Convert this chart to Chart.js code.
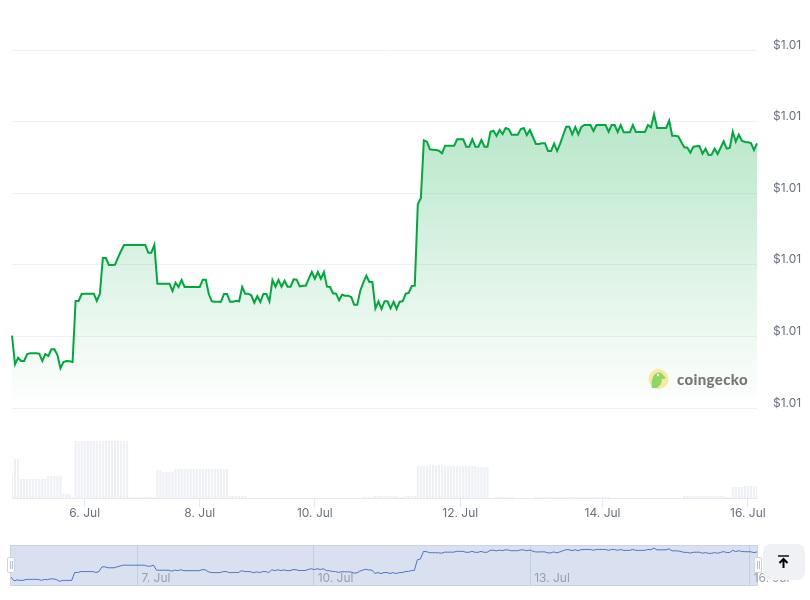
<!DOCTYPE html>
<html>
<head>
<meta charset="utf-8">
<title>Price chart</title>
<script src="https://cdn.jsdelivr.net/npm/chart.js@4"></script>
<style>
  body { margin: 0; background: #fff; width: 810px; height: 600px; overflow: hidden; position: relative; font-family: Inter, sans-serif; }
  canvas { position: absolute; left: 0; }
  #priceChart { top: 0; }
  #navChart { top: 540px; }
  #navBack { position: absolute; left: 10px; top: 545px; width: 746px; height: 39px; background: #d9e0ef; border: 1px solid #c9d3e4; }
  .handle { position: absolute; top: 557px; width: 6px; height: 14px; background: #fff; border: 1px solid #ccd5e4; border-radius: 2px; }
  .handle::after { content: ''; position: absolute; left: 2px; top: 3px; width: 1px; height: 8px; border-left: 1px solid #b4bdcc; border-right: 1px solid #b4bdcc; }
  #topBtn { position: absolute; left: 763px; top: 544px; width: 42px; height: 36px; background: #eff1f5; border-radius: 8px; }
  #logo { position: absolute; left: 648px; top: 369px; height: 20px; display: flex; align-items: center; }
  #logo span { margin-left: 8px; font: 900 15px Lato, sans-serif; color: #767676; letter-spacing: 0.35px; }
</style>
</head>
<body>
<div id="navBack"></div>
<canvas id="priceChart" width="810" height="530"></canvas>
<canvas id="navChart" width="810" height="60"></canvas>
<div class="handle" style="left:7px"></div>
<div class="handle" style="left:754px"></div>
<div id="topBtn">
  <svg width="42" height="36" viewBox="0 0 42 36">
    <path d="M15 12h11" stroke="#1b1f24" stroke-width="1.6"/>
    <path d="M20.5 24v-9M16.5 19l4-4 4 4" stroke="#000" stroke-width="2" fill="none"/>
  </svg>
</div>
<div id="logo">
  <svg width="21" height="20" viewBox="0 0 21 20">
    <circle cx="10.5" cy="10" r="10" fill="#f8eaa0"/>
    <path d="M4 19c-1-5 0-11 3-14 3-2 7-2 8 1l3 3c-2 1-3 1-4 1 0 4-2 7-5 9z" fill="#8ed865"/>
    <circle cx="10" cy="6" r="1.2" fill="#fff"/>
  </svg>
  <span>coingecko</span>
</div>
<script>
// one entry per time step
const prices = [
  1.005723, 1.005437, 1.005503, 1.00547, 1.00547, 1.00554, 1.005547, 1.005547, 1.005547, 1.005543,
  1.00547, 1.00554, 1.00552, 1.005587, 1.005587, 1.00553, 1.005397, 1.00546, 1.00547, 1.005467,
  1.00546, 1.00607, 1.00607, 1.00614, 1.006143, 1.006143, 1.006143, 1.006143, 1.00607, 1.00614,
  1.0065, 1.0065, 1.00643, 1.00643, 1.006433, 1.006503, 1.00657, 1.00663, 1.00663, 1.00663,
  1.00663, 1.00663, 1.00663, 1.00663, 1.00663, 1.006553, 1.006553, 1.00663, 1.006243, 1.006243,
  1.006243, 1.006243, 1.006243, 1.00617, 1.006253, 1.00621, 1.00628, 1.00621, 1.00621, 1.00621,
  1.00621, 1.00621, 1.00621, 1.006283, 1.006283, 1.006137, 1.006067, 1.006063, 1.006063, 1.006063,
  1.00614, 1.00614, 1.006063, 1.006063, 1.006073, 1.006067, 1.00621, 1.006143, 1.006143, 1.006127,
  1.006053, 1.00612, 1.00606, 1.00614, 1.00614, 1.006067, 1.00628, 1.006213, 1.00628, 1.006213,
  1.006273, 1.006213, 1.006213, 1.006287, 1.006283, 1.006217, 1.006223, 1.006223, 1.006293, 1.00636,
  1.006293, 1.00636, 1.006293, 1.00636, 1.006213, 1.00621, 1.006147, 1.006143, 1.006077, 1.006133,
  1.006123, 1.006123, 1.00611, 1.006033, 1.006033, 1.006173, 1.006253, 1.006323, 1.00626, 1.00626,
  1.005997, 1.006067, 1.00599, 1.006067, 1.006067, 1.005997, 1.006063, 1.00599, 1.006063, 1.006067,
  1.006143, 1.00615, 1.00622, 1.006223, 1.00704, 1.007097, 1.007677, 1.007663, 1.007587, 1.007583,
  1.00758, 1.007573, 1.007547, 1.007623, 1.007623, 1.007623, 1.007623, 1.007687, 1.007687, 1.007687,
  1.007613, 1.007613, 1.007687, 1.007613, 1.007613, 1.00768, 1.007613, 1.007613, 1.007763, 1.007773,
  1.00772, 1.00778, 1.00774, 1.0078, 1.00779, 1.007733, 1.007733, 1.007733, 1.00779, 1.0078,
  1.00773, 1.00778, 1.00771, 1.00764, 1.00764, 1.007647, 1.007647, 1.00757, 1.00757, 1.007643,
  1.00757, 1.007643, 1.00773, 1.007813, 1.007813, 1.007737, 1.00781, 1.007737, 1.00781, 1.00783,
  1.00783, 1.00783, 1.00777, 1.00783, 1.00783, 1.00783, 1.00783, 1.007763, 1.00783, 1.00783,
  1.00776, 1.00783, 1.007757, 1.007757, 1.007757, 1.00783, 1.00776, 1.00776, 1.00776, 1.00776,
  1.00783, 1.007807, 1.007937, 1.0078, 1.0078, 1.0078, 1.0078, 1.007873, 1.007723, 1.007723,
  1.007717, 1.00766, 1.007607, 1.007603, 1.007553, 1.007613, 1.007617, 1.00762, 1.007543, 1.007593,
  1.00753, 1.007533, 1.007593, 1.00754, 1.007603, 1.007667, 1.007593, 1.0076, 1.007763, 1.007663,
  1.007733, 1.007673, 1.00766, 1.007657, 1.00765, 1.00758, 1.007647
];
const volumes = [
  22, 39, 39, 19, 19, 19, 19, 19, 19, 19,
  19, 19, 22, 22, 22, 22, 22, 4, 4, 4,
  1, 57, 57, 57, 57, 57, 57, 57, 57, 57,
  57, 57, 57, 57, 57, 57, 57, 57, 57, 1,
  1, 1, 1, 1, 1, 1, 1, 1, 28, 28,
  26, 26, 26, 26, 29, 29, 29, 29, 29, 29,
  29, 29, 29, 29, 29, 29, 29, 29, 29, 29,
  29, 29, 2, 2, 2, 2, 2, 2, 0, 0,
  0, 0, 0, 0, 0, 0, 0, 0, 0, 0,
  0, 0, 0, 0, 0, 0, 0, 0, 0, 0,
  0, 0, 0, 0, 0, 0, 0, 0, 0, 0,
  0, 0, 0, 0, 0, 0, 1, 1, 1, 1,
  2, 2, 2, 2, 2, 2, 2, 2, 1, 1,
  2, 2, 2, 2, 32, 32, 32, 32, 33, 33,
  32, 33, 33, 32, 32, 32, 32, 32, 32, 32,
  32, 32, 32, 32, 31, 31, 31, 31, 0, 0,
  1, 1, 1, 1, 1, 1, 0, 0, 0, 0,
  0, 0, 0, 1, 1, 1, 1, 1, 1, 1,
  1, 1, 1, 1, 1, 1, 1, 1, 1, 1,
  1, 1, 1, 1, 1, 1, 1, 1, 0, 0,
  0, 0, 0, 0, 0, 0, 0, 0, 0, 0,
  0, 0, 0, 0, 0, 0, 0, 0, 0, 0,
  0, 0, 2, 2, 2, 2, 2, 2, 2, 2,
  2, 2, 2, 2, 2, 2, 1, 1, 11, 11,
  11, 11, 12, 12, 12, 12, 12
];

const priceTicks = [1.005, 1.005716, 1.006432, 1.007148, 1.007864, 1.00858];
const priceTickLabels = ['$1.01', '$1.01', '$1.01', '$1.01', '$1.01', '$1.01'];
const dateTickIndexes = [24, 62, 100, 148, 195, 243];
const dateTickLabels = ['6. Jul', '8. Jul', '10. Jul', '12. Jul', '14. Jul', '16. Jul'];
const navTickIndexes = [41.7, 99.8, 171.2, 243.6];
const navTickLabels = ['7. Jul', '10. Jul', '13. Jul', '16. Jul'];

const indexes = prices.map((p, i) => i);
const fontFamily = 'Inter, sans-serif';

function areaGradient(context) {
    const chart = context.chart;
    if (!chart.chartArea) return 'rgba(0, 168, 62, 0.1)';
    const scale = chart.scales.y;
    const grad = chart.ctx.createLinearGradient(0, scale.getPixelForValue(1.0078), 0, scale.getPixelForValue(priceTicks[0]));
    grad.addColorStop(0, 'rgba(0, 168, 62, 0.27)');
    grad.addColorStop(1, 'rgba(0, 168, 62, 0)');
    return grad;
}

new Chart(document.getElementById('priceChart'), {
    data: {
        labels: indexes,
        datasets: [
            {
                type: 'line',
                data: prices,
                yAxisID: 'y',
                borderColor: '#00a83e',
                borderWidth: 2,
                pointRadius: 0,
                tension: 0,
                fill: { value: priceTicks[0] },
                backgroundColor: areaGradient
            },
            {
                type: 'bar',
                data: volumes,
                yAxisID: 'vol',
                backgroundColor: '#eef0f4',
                categoryPercentage: 1,
                barPercentage: 0.7
            }
        ]
    },
    options: {
        responsive: false,
        animation: false,
        layout: { padding: { left: 12, top: 50, right: 0, bottom: 0 } },
        plugins: { legend: { display: false }, tooltip: { enabled: false } },
        scales: {
            x: {
                type: 'category',
                offset: false,
                grid: { offset: false, drawOnChartArea: false, tickLength: 9, tickColor: '#e6e9ef' },
                border: { color: '#e6e9ef' },
                afterBuildTicks: axis => { axis.ticks = dateTickIndexes.map(v => ({ value: v })); },
                afterFit: axis => { axis.height = 32; },
                ticks: {
                    autoSkip: false,
                    maxRotation: 0,
                    padding: -1,
                    color: '#687083',
                    font: { family: fontFamily, size: 12 },
                    callback: (v, i) => dateTickLabels[i]
                }
            },
            y: {
                position: 'right',
                min: 1.0041,
                max: priceTicks[5],
                grid: { color: '#eff1f3', drawTicks: false },
                border: { display: false },
                afterBuildTicks: axis => { axis.ticks = priceTicks.map(v => ({ value: v })); },
                afterFit: axis => { axis.width = 53; },
                ticks: {
                    padding: 16,
                    labelOffset: -5,
                    color: '#687083',
                    font: { family: fontFamily, size: 12 },
                    callback: (v, i) => priceTickLabels[i]
                }
            },
            vol: { display: false, min: 0, max: 448 }
        }
    }
});

new Chart(document.getElementById('navChart'), {
    type: 'line',
    data: {
        labels: indexes,
        datasets: [{
            data: prices,
            borderColor: '#4f74c4',
            borderWidth: 1,
            pointRadius: 0,
            tension: 0
        }]
    },
    options: {
        responsive: false,
        animation: false,
        layout: { padding: { left: 11, top: 5, right: 53, bottom: 0 } },
        plugins: { legend: { display: false }, tooltip: { enabled: false } },
        scales: {
            x: {
                type: 'category',
                grid: { color: '#c5cedd', drawTicks: false },
                border: { display: false },
                afterBuildTicks: axis => { axis.ticks = navTickIndexes.map(v => ({ value: v })); },
                afterFit: axis => { axis.height = 14; },
                ticks: {
                    // mirror keeps the labels inside the plot instead of clipped to the axis box
                    mirror: true,
                    autoSkip: false,
                    maxRotation: 0,
                    align: 'start',
                    labelOffset: 4,
                    padding: 0,
                    color: '#9b9ea6',
                    font: { family: fontFamily, size: 12 },
                    callback: (v, i) => navTickLabels[i]
                }
            },
            y: { display: false, min: 1.00504, max: 1.00817 }
        }
    }
});
</script>
</body>
</html>
